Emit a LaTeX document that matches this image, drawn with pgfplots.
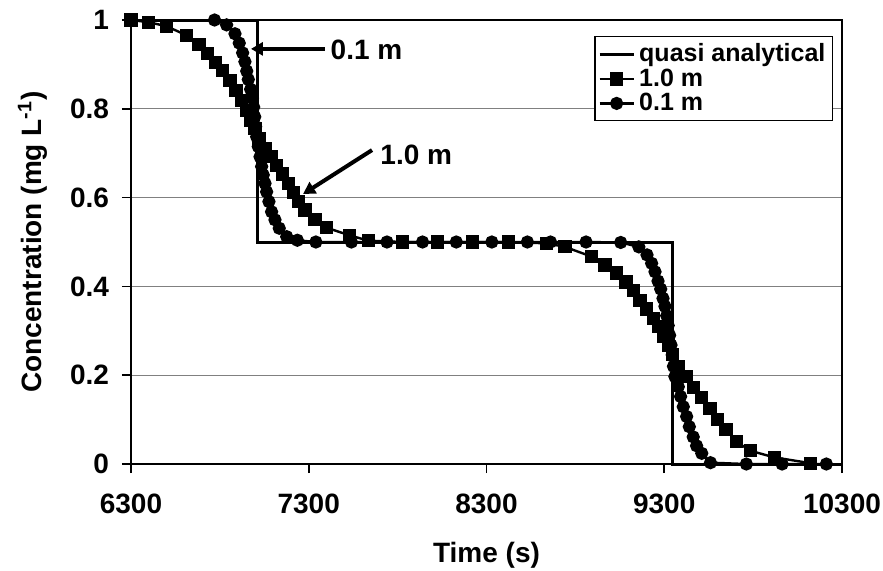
\documentclass[border=0pt]{standalone}
\usepackage{fontspec}
\setmainfont{Liberation Sans}
\usepackage{pgfplots}
\pgfplotsset{compat=1.18}
\usetikzlibrary{arrows.meta}

% quasi analytical step solution
\pgfplotstableread{
t c
6300 1.0
7014 1.0
7014 0.5
9344 0.5
9344 0.0
10300 0.0
}\quasi

% 1.0 m grid
\pgfplotstableread{
t c
6300 1.000
6400 0.995
6500 0.986
6610 0.966
6683 0.944
6732 0.925
6776 0.905
6814 0.886
6857 0.864
6891 0.841
6923 0.819
6951 0.796
6975 0.774
6998 0.755
7020 0.734
7054 0.711
7088 0.692
7120 0.673
7153 0.653
7185 0.632
7213 0.612
7241 0.592
7279 0.572
7335 0.550
7402 0.532
7530 0.515
7635 0.503
7829 0.500
8023 0.500
8222 0.500
8423 0.500
8639 0.497
8742 0.489
8892 0.467
8967 0.448
9033 0.430
9085 0.410
9126 0.390
9164 0.369
9201 0.349
9238 0.328
9267 0.309
9295 0.288
9323 0.268
9345 0.246
9377 0.220
9422 0.197
9463 0.173
9511 0.150
9557 0.125
9598 0.101
9647 0.077
9708 0.050
9783 0.030
9918 0.015
10121 0.002
}\coarse

% 0.1 m grid
\pgfplotstableread{
t c
6770 1.000
6838 0.989
6885 0.969
6909 0.948
6928 0.926
6941 0.906
6951 0.885
6960 0.866
6973 0.844
6983 0.824
6990 0.804
6996 0.782
7001 0.760
7007 0.737
7016 0.715
7026 0.692
7035 0.670
7044 0.651
7054 0.632
7063 0.613
7076 0.591
7091 0.568
7110 0.550
7134 0.531
7176 0.512
7236 0.504
7340 0.500
7540 0.500
7740 0.500
7940 0.500
8130 0.500
8330 0.500
8530 0.500
8660 0.500
8860 0.500
9055 0.499
9157 0.489
9203 0.471
9229 0.452
9248 0.433
9265 0.412
9280 0.394
9293 0.373
9304 0.355
9314 0.334
9322 0.312
9330 0.290
9338 0.268
9345 0.246
9352 0.220
9360 0.197
9379 0.174
9392 0.152
9407 0.129
9426 0.107
9441 0.084
9463 0.061
9482 0.041
9511 0.024
9560 0.003
9762 0.000
9963 0.000
10212 0.000
}\fine

\begin{document}
\begin{tikzpicture}
\useasboundingbox (-65.5pt,-53pt) rectangle (376pt,232pt);
\begin{axis}[
    at={(0,0)}, anchor=south west,
    scale only axis, width=355.5pt, height=222pt,
    xmin=6300, xmax=10300, ymin=0, ymax=1,
    scaled x ticks=false, scaled y ticks=false,
    xtick={6300,7300,8300,9300,10300},
    xticklabels={6300,7300,8300,9300,10300},
    ytick={0,0.2,0.4,0.6,0.8,1},
    yticklabels={0,0.2,0.4,0.6,0.8,1},
    xtick pos=bottom, ytick pos=left,
    tick align=outside, major tick length=4.5pt,
    tick style={black, line width=0.8pt},
    axis line style={black, line width=1pt},
    ymajorgrids, grid style={gray, line width=0.5pt},
    ticklabel style={font=\bfseries\fontsize{14}{16}\selectfont},
    xticklabel style={yshift=-7pt},
    yticklabel style={xshift=-3pt},
    xlabel={Time (s)},
    ylabel={Concentration (mg L\textsuperscript{-1})},
    label style={font=\bfseries\fontsize{14}{16}\selectfont},
    xlabel style={at={(axis description cs:0.5,-0.205)}, anchor=center},
    ylabel style={at={(axis description cs:-0.138,0.5)}, anchor=center},
    clip=false,
    legend cell align=left,
    legend style={at={(1,1)}, anchor=north east, xshift=-4.5pt, yshift=-8pt,
        font=\bfseries\fontsize{12.5}{15}\selectfont, draw=black, line width=0.6pt,
        inner sep=1.5pt, row sep=-2pt},
]
\addplot[black, line width=1.5pt] table[x=t, y=c] {\quasi};
\addlegendentry{quasi analytical}
\addplot[black, line width=1.2pt, mark=square*, mark size=2.7pt,
    mark options={solid}] table[x=t, y=c] {\coarse};
\addlegendentry{1.0 m}
\addplot[black, line width=1.2pt, mark=*, mark size=2.7pt,
    mark options={solid}] table[x=t, y=c] {\fine};
\addlegendentry{0.1 m}

\draw[line width=2pt, -{Triangle[length=6pt, width=6.5pt]}]
    (axis cs:7391,0.935) -- (axis cs:6975,0.935);
\node[font=\bfseries\fontsize{14}{16}\selectfont, anchor=west, inner sep=1pt]
    at (axis cs:7410,0.932) {0.1 m};
\draw[line width=2pt, -{Triangle[length=6pt, width=6.5pt]}]
    (axis cs:7656,0.707) -- (axis cs:7268,0.608);
\node[font=\bfseries\fontsize{14}{16}\selectfont, anchor=west, inner sep=1pt]
    at (axis cs:7690,0.696) {1.0 m};
\end{axis}
\end{tikzpicture}
\end{document}
